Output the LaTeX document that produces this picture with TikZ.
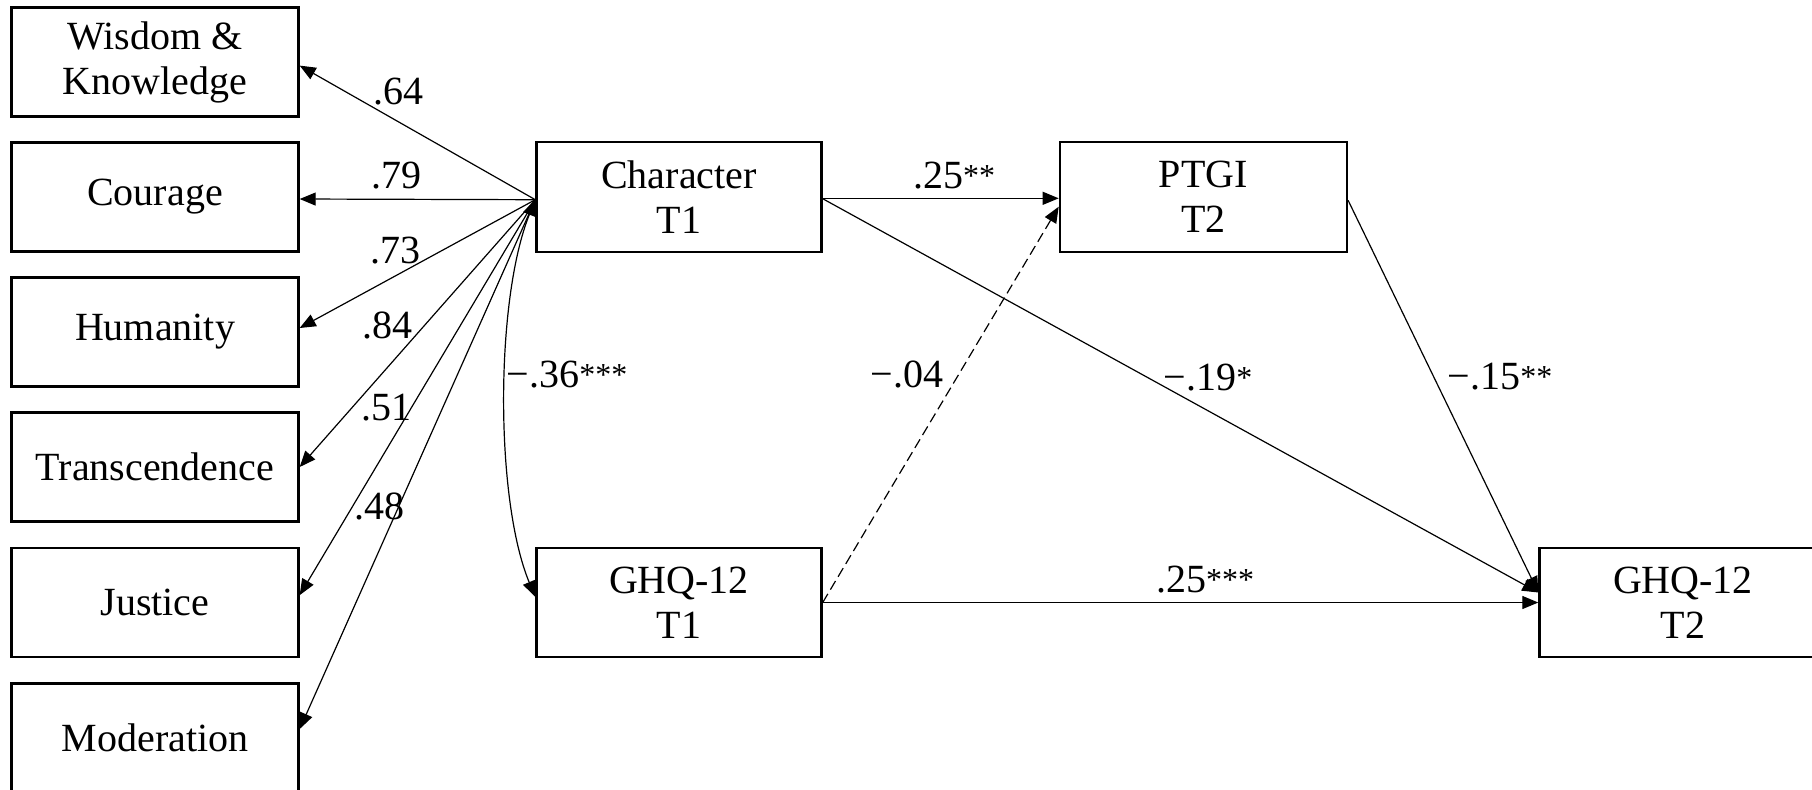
\documentclass[tikz,border=0pt]{standalone}
\usepackage{fontspec}
\setmainfont{Liberation Serif}
\usetikzlibrary{arrows.meta}
\newcommand{\sigst}[1]{{\fontsize{16pt}{16pt}\selectfont\raisebox{1pt}{#1}}}
\begin{document}
\begin{tikzpicture}[x=0.5pt,y=-0.5pt,
  box/.style={draw, line width=1.2pt, inner sep=0pt, minimum width=143.5pt,
    minimum height=54.5pt, align=center, font=\fontsize{20pt}{22.5pt}\selectfont},
  lbl/.style={anchor=base, inner sep=0pt, font=\fontsize{20pt}{22.5pt}\selectfont},
  conn/.style={line width=0.6pt, -{Triangle[length=8pt,width=6.5pt]}},
]
\useasboundingbox (0,0) rectangle (1812,789);
\fill[white] (0,0) rectangle (1812,789);
\clip (0,0) rectangle (1812,789);

% left indicator boxes
\node[box] (wis) at (155,62) {Wisdom \&\\Knowledge};
\node[box] (cou) at (155,197) {Courage};
\node[box] (hum) at (155,332) {Humanity};
\node[box] (tra) at (155,467) {Transcendence};
\node[box] (jus) at (155,602.5) {Justice};
\node[box] (mod) at (155,738) {Moderation};

% main variables
\node[box, minimum width=142.5pt, minimum height=55pt] (chr) at (679,196.7) {Character\\T1};
\node[box, minimum width=142.5pt] (ghq1) at (679,602.5) {GHQ-12\\T1};
\node[box, minimum height=55pt] (ptgi) at (1203.4,196.7) {PTGI\\T2};
\node[box] (ghq2) at (1683,602.5) {GHQ-12\\T2};

\coordinate (cw) at ([yshift=-1.5pt]chr.west);
\coordinate (t2in) at ([yshift=5pt]ghq2.west);

% loadings
\draw[conn] (cw) -- ([yshift=-1.8pt]wis.east);
\draw[conn] (cw) -- ([yshift=-1pt]cou.east);
\draw[conn] (cw) -- ([yshift=2pt]hum.east);
\draw[conn] (cw) -- (tra.east);
\draw[conn] (cw) -- ([yshift=3.7pt]jus.east);
\draw[conn] (cw) -- ([yshift=4.5pt]mod.east);

% covariance
\draw[line width=0.6pt, {Triangle[length=8pt,width=6.5pt]}-{Triangle[length=8pt,width=6.5pt]}]
  (cw) .. controls (495,300) and (495,500) .. ([yshift=2.75pt]ghq1.west);

% paths
\draw[conn] ([yshift=-0.8pt]chr.east) -- ([yshift=-0.8pt]ptgi.west);
\draw[conn] ([yshift=-1pt]chr.east) -- (t2in);
\draw[conn] ([yshift=-1.8pt]ptgi.east) -- (t2in);
\draw[conn] (ghq1.east) -- (ghq2.west);
\draw[conn, dash pattern=on 5pt off 2.5pt] (ghq1.east) -- ([yshift=-5pt]ptgi.west);

% labels
\node[lbl] (l64) at (398,104) {.64};
\node[lbl] (l79) at (396,188) {.79};
\node[lbl] (l73) at (395,263) {.73};
\node[lbl] (l84) at (387,338) {.84};
\node[lbl] (l51) at (386,420) {.51};
\node[lbl] (l48) at (379,519) {.48};
\node[lbl] (l36) at (567,387) {−.36\sigst{***}};
\node[lbl] (l25a) at (954,188) {.25\sigst{**}};
\node[lbl] (l04) at (907,387) {−.04};
\node[lbl] (l19) at (1208,390) {−.19\sigst{*}};
\node[lbl] (l15) at (1500,389) {−.15\sigst{**}};
\node[lbl] (l25b) at (1205,592) {.25\sigst{***}};
\end{tikzpicture}
\end{document}
